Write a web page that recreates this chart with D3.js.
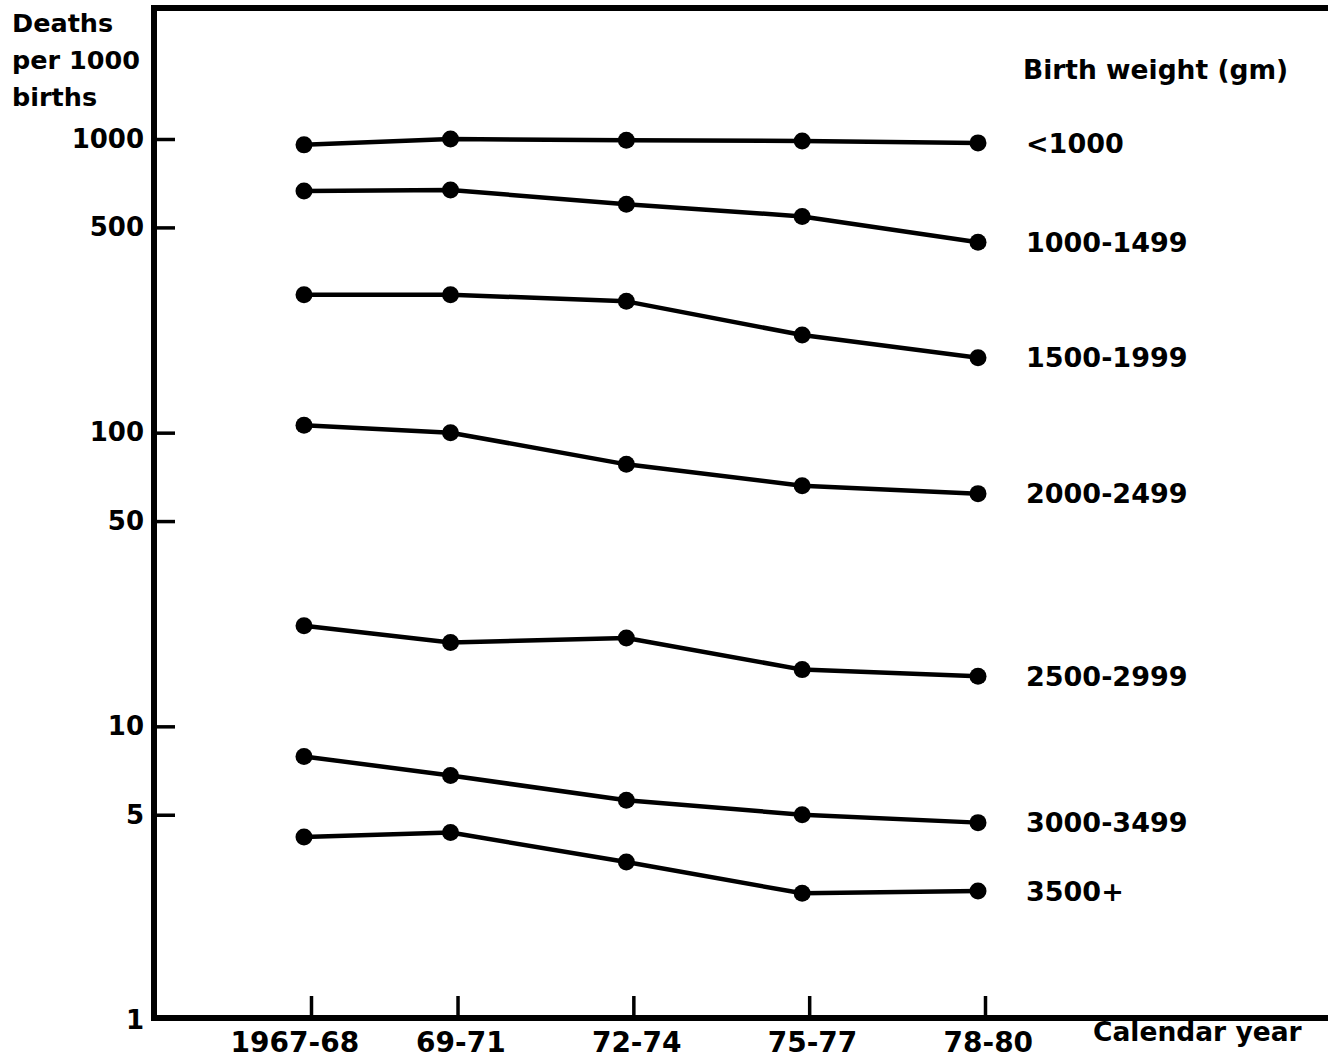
<!DOCTYPE html>
<html lang="en-US">
<head>
    <meta charset="UTF-8">
    <title>Deaths per 1000 births by birth weight</title>
    <script src="https://d3js.org/d3.v7.min.js"></script>
    <style>
        body { margin: 0; background: #fff; }
        text { font-family: "DejaVu Sans", sans-serif; font-weight: bold; fill: #000; }
        .line { fill: none; stroke: #000; stroke-width: 4.5px; stroke-linejoin: round; }
        .dot { fill: #000; }
        .frame { fill: none; stroke: #000; stroke-width: 6px; }
        .axis .domain { display: none; }
        .axis line { stroke: #000; stroke-width: 3.5px; }
    </style>
</head>
<body>
<script>

// period labels and their mid years
var periods = ["1967-68", "69-71", "72-74", "75-77", "78-80"];
var midYears = [1967.5, 1970, 1973, 1976, 1979];

// birth weight groups (gm)
var groups = ["<1000", "1000-1499", "1500-1999", "2000-2499", "2500-2999", "3000-3499", "3500+"];

// deaths per 1000 births, one row per group
var rate_lt1000 = [955, 1000, 990, 985, 970];
var rate_1000 = [665, 670, 600, 545, 445];
var rate_1500 = [295, 295, 280, 215, 180];
var rate_2000 = [106, 100, 78, 66, 62];
var rate_2500 = [22, 19.3, 20, 15.6, 14.8];
var rate_3000 = [7.9, 6.8, 5.6, 5.0, 4.7];
var rate_3500 = [4.2, 4.35, 3.45, 2.7, 2.75];

var rates = [rate_lt1000, rate_1000, rate_1500, rate_2000, rate_2500, rate_3000, rate_3500];

var yTicks = [1, 5, 10, 50, 100, 500, 1000];

var width = 1328, height = 1058;
var frameLeft = 154, frameTop = 8, frameBottom = 1018;

var x = d3.scaleLinear()
    .domain([1967.5, 1979])
    .range([311, 985]);

var y = d3.scaleLog()
    .domain([1, 1000])
    .range([1020, 139]);

var svg = d3.select("body").append("svg")
    .attr("width", width)
    .attr("height", height);

// frame: top rule, left axis, bottom axis
svg.append("path")
    .attr("class", "frame")
    .attr("d", "M" + width + "," + frameTop + "H" + frameLeft + "V" + frameBottom + "H" + width);

svg.append("g")
    .attr("class", "axis axis--y")
    .attr("transform", "translate(" + frameLeft + ",0)")
    .call(d3.axisLeft(y)
        .tickValues(yTicks)
        .tickFormat(d3.format("d"))
        .tickSizeInner(-21)
        .tickSizeOuter(0)
        .tickPadding(10))
    .selectAll("text")
    .style("font-size", "26px");

// no tick mark at 1 (the bottom axis is there)
svg.selectAll(".axis--y .tick line")
    .filter(function(d) { return d === 1; })
    .remove();

var xAxis = svg.append("g")
    .attr("class", "axis axis--x")
    .attr("transform", "translate(0," + frameBottom + ")")
    .call(d3.axisBottom(x)
        .tickValues(midYears)
        .tickFormat(function(d, i) { return periods[i]; })
        .tickSizeInner(-22)
        .tickSizeOuter(0)
        .tickPadding(14));

xAxis.selectAll("text")
    .style("font-size", "28px")
    .style("text-anchor", "end")
    .attr("dx", "1.7em");

svg.append("text")      // x axis title
    .attr("x", 1093)
    .attr("y", 1041)
    .style("font-size", "26.5px")
    .text("Calendar year");

// y axis title, three lines
var yTitle = svg.append("text")
    .attr("x", 12)
    .attr("y", 32)
    .style("font-size", "25.5px");

["Deaths", "per 1000", "births"].forEach(function(t, i) {
    yTitle.append("tspan")
        .attr("x", 12)
        .attr("dy", i === 0 ? 0 : 37)
        .text(t);
});

svg.append("text")
    .attr("x", 1023)
    .attr("y", 79)
    .style("font-size", "26.5px")
    .text("Birth weight (gm)");

// data layer sits a little left of the tick marks, as drawn
var plot = svg.append("g")
    .attr("transform", "translate(-7,0)");

var line = d3.line()
    .x(function(d, i) { return x(midYears[i]); })
    .y(function(d) { return y(d); });

rates.forEach(function(series, k) {
    plot.append("path")
        .datum(series)
        .attr("class", "line")
        .attr("d", line);

    plot.selectAll(".dot-" + k)
        .data(series)
        .enter().append("circle")
        .attr("class", "dot dot-" + k)
        .attr("cx", function(d, i) { return x(midYears[i]); })
        .attr("cy", function(d) { return y(d); })
        .attr("r", 8.5);

    plot.append("text")
        .attr("x", x(midYears[midYears.length - 1]) + 48)
        .attr("y", y(series[series.length - 1]))
        .attr("dy", "0.36em")
        .style("font-size", "27px")
        .text(groups[k]);
});

</script>
</body>
</html>
